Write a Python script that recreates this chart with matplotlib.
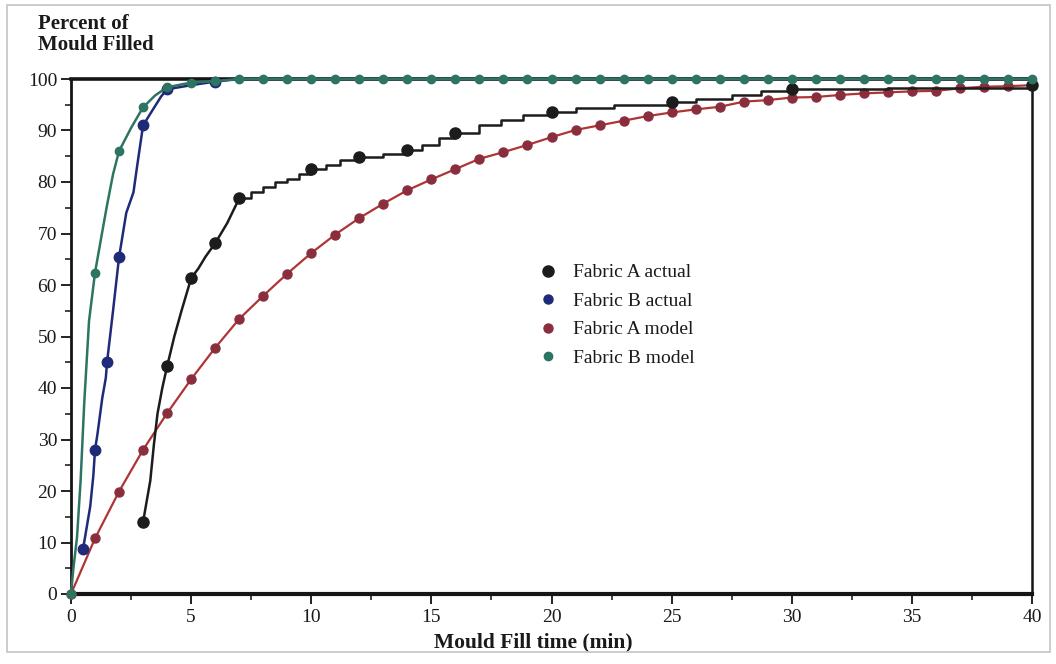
import matplotlib
matplotlib.use("Agg")
import matplotlib.pyplot as plt
from matplotlib.lines import Line2D
from matplotlib.patches import Rectangle
from matplotlib.ticker import MultipleLocator

plt.rcParams['font.family'] = ['Liberation Serif', 'DejaVu Serif']

# Fabric A, measured fill fraction (%) vs time (min)
fa_actual_t = [3.0, 3.3, 3.45, 3.6, 3.8, 4.0, 4.3, 4.6, 5.0, 5.3, 5.6, 6.0, 6.5, 7.0,
               7.5, 8.0, 8.5, 9.0, 9.5, 10.0, 10.6, 11.2, 12.0, 13.0, 14.0, 14.6, 15.3,
               16.0, 17.0, 17.9, 18.8, 20.0, 21.0, 22.6, 25.0, 26.0, 27.5, 28.7, 30.0,
               34.0, 40.0]
fa_actual_v = [14.0, 22.0, 29.0, 35.0, 40.0, 44.2, 50.0, 55.0, 61.3, 63.2, 65.5, 68.1, 72.0, 76.8,
               78.0, 79.1, 80.0, 80.6, 81.5, 82.6, 83.3, 84.2, 84.9, 85.5, 86.2, 87.2, 88.5,
               89.6, 91.0, 92.0, 93.0, 93.6, 94.3, 95.0, 95.6, 96.2, 96.9, 97.6, 98.0,
               98.2, 98.8]
fa_actual_marks = [3, 4, 5, 6, 7, 10, 12, 14, 16, 20, 25, 30, 40]

# Fabric B, measured
fb_actual_t = [0.5, 0.8, 0.93, 1.0, 1.1, 1.3, 1.45, 1.5, 1.75, 2.0, 2.3, 2.6, 2.75, 3.0,
               3.4, 3.75, 4.0, 5.0, 6.0, 7.0, 40.0]
fb_actual_v = [8.7, 17.0, 23.0, 28.0, 31.0, 38.0, 42.0, 45.0, 55.0, 65.4, 74.0, 78.0, 83.0, 91.0,
               94.0, 96.6, 98.0, 98.8, 99.5, 100.0, 100.0]
fb_actual_marks = [0.5, 1, 1.5, 2, 3, 4, 6]

# Fabric A, model prediction at one-minute steps
fa_model_t = list(range(0, 41))
fa_model_v = [0.0, 10.8, 19.9, 28.0, 35.1, 41.7, 47.8, 53.4, 57.9, 62.2, 66.2,
              69.8, 73.0, 75.8, 78.4, 80.5, 82.5, 84.5, 85.8, 87.2, 88.7,
              90.1, 91.0, 91.9, 92.8, 93.5, 94.1, 94.6, 95.6, 95.9, 96.4,
              96.5, 96.9, 97.2, 97.4, 97.6, 97.7, 98.2, 98.5, 98.6, 98.8]

# Fabric B, model prediction
fb_model_t = [0, 0.1, 0.25, 0.4, 0.55, 0.75, 1, 1.25, 1.5, 1.75, 2, 2.5, 3, 3.5, 4, 5, 6] + list(range(7, 41))
fb_model_v = [0.0, 5.0, 11.0, 22.0, 37.0, 53.0, 62.4, 69.0, 75.5, 81.5, 86.0, 90.5, 94.5, 96.8,
              98.4, 99.3, 99.6] + [100.0] * 34

c_fa_act = '#1c1c1c'
c_fb_act = '#1f2a78'
c_fa_mod = '#b03434'
c_fa_mod_mk = '#8a2e3e'
c_fb_mod = '#2e7462'

fig = plt.figure(figsize=(10.56, 6.64), dpi=100)
ax = fig.add_axes([71 / 1056, 1 - 594 / 664, (1032 - 71) / 1056, (594 - 79) / 664])

# Fabric A model
mk_idx = [i for i, t in enumerate(fa_model_t) if float(t).is_integer()]
ax.plot(fa_model_t, fa_model_v, color=c_fa_mod, lw=1.6, marker='o', ms=6.5,
        mfc=c_fa_mod_mk, mec=c_fa_mod_mk, markevery=mk_idx, zorder=3, clip_on=False)

# Fabric A actual: steep rise drawn as a polyline, plateau as recorded steps
split = fa_actual_t.index(7.0)
ax.plot(fa_actual_t[:split + 1], fa_actual_v[:split + 1], color=c_fa_act, lw=1.8, zorder=4)
ax.plot(fa_actual_t[split:], fa_actual_v[split:], color=c_fa_act, lw=1.8,
        drawstyle='steps-post', zorder=4, clip_on=False)
sel = [i for i, t in enumerate(fa_actual_t) if t in fa_actual_marks]
ax.plot([fa_actual_t[i] for i in sel], [fa_actual_v[i] for i in sel], 'o', color=c_fa_act,
        ms=8, zorder=5, clip_on=False)

# Fabric B actual
sel_b = [i for i, t in enumerate(fb_actual_t) if t in fb_actual_marks]
ax.plot(fb_actual_t, fb_actual_v, color=c_fb_act, lw=1.8, marker='o', ms=7.5,
        markevery=sel_b, zorder=4, clip_on=False)

# Fabric B model
mk_b = [i for i, t in enumerate(fb_model_t) if float(t).is_integer()]
ax.plot(fb_model_t, fb_model_v, color=c_fb_mod, lw=1.8, marker='o', ms=6,
        markevery=mk_b, zorder=6, clip_on=False)

ax.set_xlim(0, 40)
ax.set_ylim(0, 100)
ax.xaxis.set_major_locator(MultipleLocator(5))
ax.xaxis.set_minor_locator(MultipleLocator(2.5))
ax.yaxis.set_major_locator(MultipleLocator(10))
ax.yaxis.set_minor_locator(MultipleLocator(5))
ax.tick_params(which='major', direction='out', length=7, width=1.4, color='#222222',
               labelsize=14, labelcolor='#1a1a1a')
ax.tick_params(axis='x', which='major', pad=4)
ax.tick_params(axis='y', which='major', pad=3)
ax.tick_params(which='minor', direction='out', length=4, width=1.2, color='#222222')
for side, w in (('left', 2.0), ('bottom', 3.0), ('top', 2.6), ('right', 1.8)):
    ax.spines[side].set_linewidth(w)
    ax.spines[side].set_color('#151515')

ax.set_xlabel('Mould Fill time (min)', fontsize=15.5, fontweight='bold', color='#1a1a1a',
              va='top')
ax.xaxis.set_label_coords((533 - 71) / 961, -(632 - 594) / 515)
fig.text(38 / 1056, 1 - 14 / 664, 'Percent of\nMould Filled', fontsize=15, fontweight='bold',
         ha='left', va='top', linespacing=1.1, color='#1a1a1a')

handles = [
    Line2D([], [], ls='none', marker='o', ms=8, color=c_fa_act),
    Line2D([], [], ls='none', marker='o', ms=6.5, color=c_fb_act),
    Line2D([], [], ls='none', marker='o', ms=6.5, color=c_fa_mod_mk),
    Line2D([], [], ls='none', marker='o', ms=6, color=c_fb_mod),
]
labels = ['Fabric A actual', 'Fabric B actual', 'Fabric A model', 'Fabric B model']
ax.legend(handles, labels, loc='upper left', bbox_to_anchor=(0.468, 0.675), frameon=False,
          fontsize=14, handlelength=1.0, handletextpad=0.8, labelspacing=0.56,
          labelcolor='#1a1a1a')

fig.patches.append(Rectangle((7 / 1056, 1 - 652 / 664), (1050 - 7) / 1056, (652 - 5) / 664,
                             transform=fig.transFigure, fill=False, ec='#c4c4c4', lw=1.2))

fig.savefig('out.png', dpi=100, facecolor='white')
